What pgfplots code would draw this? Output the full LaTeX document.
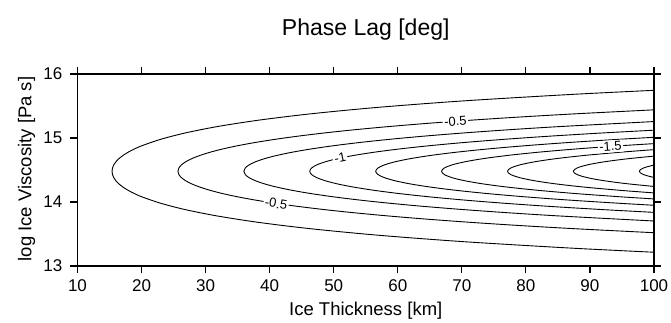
\documentclass[border=0pt]{standalone}
\usepackage{pgfplots}
\pgfplotsset{compat=1.18}
\usepackage{fontspec}
\setmainfont{Liberation Sans}
\begin{document}
\begin{tikzpicture}
\useasboundingbox (-77.5pt,-57pt) rectangle (593.5pt,266pt);
\begin{axis}[
  at={(0pt,0pt)}, anchor=south west,
  width=576.5pt, height=192pt, scale only axis,
  xmin=10, xmax=100, ymin=13, ymax=16,
  xtick={10,20,...,100}, ytick={13,14,15,16},
  xticklabel pos=lower, yticklabel pos=left,
  xtick pos=both, ytick pos=both,
  tick align=outside, major tick length=7pt,
  axis line style={line width=1.6pt},
  every tick/.style={black, line width=1.2pt},
  /pgf/number format/assume math mode=true,
  tick label style={font=\fontsize{17}{17}\selectfont},
  xticklabel style={anchor=north, inner sep=0pt, yshift=-6pt},
  yticklabel style={anchor=east, inner sep=0pt, xshift=-8pt},
  clip=true,
]
% contour -0.25
\addplot[black, line width=0.9pt, smooth] coordinates {
(100,15.745)(86.97,15.68)(70.28,15.58)(57.06,15.48)(46.62,15.38)(38.38,15.28)(31.91,15.18)(26.87,15.08)(23.00,14.98)(20.07,14.88)(18.92,14.83)(17.94,14.78)(17.14,14.73)(16.50,14.68)(16.01,14.63)(15.66,14.58)(15.46,14.53)(15.39,14.48)
(15.46,14.43)(15.66,14.38)(16.01,14.33)(16.50,14.28)(17.14,14.23)(17.94,14.18)(18.92,14.13)(20.07,14.08)(23.00,13.98)(26.87,13.88)(31.91,13.78)(38.38,13.68)(46.62,13.58)(57.06,13.48)(70.28,13.38)(86.97,13.28)(100,13.215)};
% contour -0.5
\addplot[black, line width=0.9pt, smooth] coordinates {
(100,15.44)(88.13,15.38)(79.40,15.33)(71.66,15.28)(64.79,15.23)(58.73,15.18)(53.37,15.13)(48.65,15.08)(44.51,15.03)(40.90,14.98)(37.75,14.93)(35.04,14.88)(32.73,14.83)(30.79,14.78)(29.19,14.73)(27.90,14.68)(26.92,14.63)(26.23,14.58)(25.82,14.53)(25.68,14.48)
(25.82,14.43)(26.23,14.38)(26.92,14.33)(27.90,14.28)(29.19,14.23)(30.79,14.18)(32.73,14.13)(35.04,14.08)(37.75,14.03)(40.90,13.98)(44.51,13.93)(48.65,13.88)(53.37,13.83)(58.73,13.78)(64.79,13.73)(71.66,13.68)(79.40,13.63)(88.13,13.58)(100,13.52)};
% contour -0.75
\addplot[black, line width=0.9pt, smooth] coordinates {
(100,15.257)(85.54,15.18)(77.50,15.13)(70.42,15.08)(64.21,15.03)(58.79,14.98)(54.08,14.93)(50.02,14.88)(46.55,14.83)(43.63,14.78)(41.23,14.73)(39.30,14.68)(37.83,14.63)(36.79,14.58)(36.18,14.53)(35.97,14.48)
(36.18,14.43)(36.79,14.38)(37.83,14.33)(39.30,14.28)(41.23,14.23)(43.63,14.18)(46.55,14.13)(50.02,14.08)(54.08,14.03)(58.79,13.98)(64.21,13.93)(70.42,13.88)(77.50,13.83)(85.54,13.78)(100,13.703)};
% contour -1
\addplot[black, line width=0.9pt, smooth] coordinates {
(100,15.122)(92.20,15.08)(83.92,15.03)(76.69,14.98)(70.40,14.93)(64.99,14.88)(60.37,14.83)(56.48,14.78)(53.27,14.73)(50.70,14.68)(48.74,14.63)(47.36,14.58)(46.53,14.53)(46.26,14.48)
(46.53,14.43)(47.36,14.38)(48.74,14.33)(50.70,14.28)(53.27,14.23)(56.48,14.18)(60.37,14.13)(64.99,14.08)(70.40,14.03)(76.69,13.98)(83.92,13.93)(92.20,13.88)(100,13.838)};
% contour -1.25
\addplot[black, line width=0.9pt, smooth] coordinates {
(100,15.011)(94.59,14.98)(86.73,14.93)(79.96,14.88)(74.18,14.83)(69.32,14.78)(65.31,14.73)(62.10,14.68)(59.65,14.63)(57.92,14.58)(56.89,14.53)(56.55,14.48)
(56.89,14.43)(57.92,14.38)(59.65,14.33)(62.10,14.28)(65.31,14.23)(69.32,14.18)(74.18,14.13)(79.96,14.08)(86.73,14.03)(94.59,13.98)(100,13.949)};
% contour -1.5
\addplot[black, line width=0.9pt, smooth] coordinates {
(100,14.912)(94.93,14.88)(88.00,14.83)(82.16,14.78)(77.35,14.73)(73.50,14.68)(70.56,14.63)(68.48,14.58)(67.25,14.53)(66.84,14.48)
(67.25,14.43)(68.48,14.38)(70.56,14.33)(73.50,14.28)(77.35,14.23)(82.16,14.18)(88.00,14.13)(94.93,14.08)(100,14.048)};
% contour -1.75
\addplot[black, line width=0.9pt, smooth] coordinates {
(100,14.818)(95.01,14.78)(89.40,14.73)(84.90,14.68)(81.47,14.63)(79.05,14.58)(77.61,14.53)(77.13,14.48)
(77.61,14.43)(79.05,14.38)(81.47,14.33)(84.90,14.28)(89.40,14.23)(95.01,14.18)(100,14.142)};
% contour -2
\addplot[black, line width=0.9pt, smooth] coordinates {
(100,14.717)(96.30,14.68)(94.19,14.655)(92.38,14.63)(90.85,14.605)(89.61,14.58)(88.65,14.555)(87.97,14.53)(87.56,14.505)(87.42,14.48)
(87.56,14.455)(87.97,14.43)(88.65,14.405)(89.61,14.38)(90.85,14.355)(92.38,14.33)(94.19,14.305)(96.30,14.28)(100,14.243)};
% contour -2.25
\addplot[black, line width=0.9pt, smooth] coordinates {
(100,14.576)(99.10,14.555)(98.33,14.53)(97.87,14.505)(97.71,14.48)(97.87,14.455)(98.33,14.43)(99.10,14.405)(100,14.384)};
% contour labels
\node[fill=white, inner sep=1.5pt, rotate=-9, font=\fontsize{13}{13}\selectfont] at (axis cs:41.0,13.975) {-0.5};
\node[fill=white, inner sep=1.5pt, rotate=4, font=\fontsize{13}{13}\selectfont] at (axis cs:69.0,15.262) {-0.5};
\node[fill=white, inner sep=1.5pt, rotate=12, font=\fontsize{13}{13}\selectfont] at (axis cs:51.0,14.685) {-1};
\node[fill=white, inner sep=1.5pt, rotate=4, font=\fontsize{13}{13}\selectfont] at (axis cs:93.2,14.868) {-1.5};
\end{axis}
\node[anchor=base, font=\fontsize{23}{23}\selectfont] at (288.25pt,230pt) {Phase Lag [deg]};
\node[anchor=base, font=\fontsize{18.5}{18.5}\selectfont] at (288.25pt,-50pt) {Ice Thickness [km]};
\node[anchor=base, rotate=90, font=\fontsize{18.5}{18.5}\selectfont] at (-46pt,97pt) {log Ice Viscosity [Pa s]};
\end{tikzpicture}
\end{document}
